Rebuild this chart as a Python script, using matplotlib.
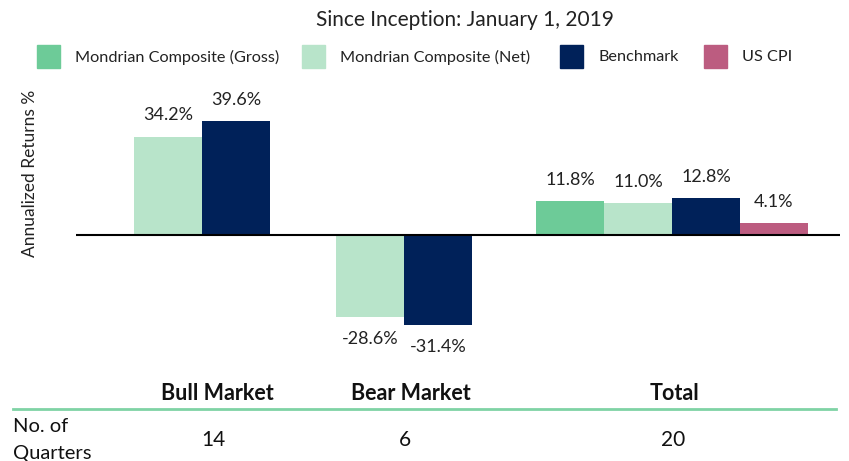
import matplotlib
matplotlib.use("Agg")
import matplotlib.pyplot as plt
from matplotlib.patches import Rectangle
from matplotlib.lines import Line2D

# ---- data ----
title = "Since Inception: January 1, 2019"
series = ["Mondrian Composite (Gross)", "Mondrian Composite (Net)", "Benchmark", "US CPI"]
periods = ["Bull Market", "Bear Market", "Total"]
quarters = ["14", "6", "20"]
# values per period; None = not shown
gross = [None, None, 11.8]
net = [34.2, -28.6, 11.0]
benchmark = [39.6, -31.4, 12.8]
us_cpi = [None, None, 4.1]
ylabel = "Annualized Returns %"

colors = ["#6dcb98", "#b8e4ca", "#002159", "#bc5c80"]
FONT = ["Lato", "DejaVu Sans"]
plt.rcParams["font.family"] = FONT

W, H = 849, 461
fig = plt.figure(figsize=(W / 100, H / 100), dpi=100)

def fx(px):
    return px / W

def fy(py):
    return 1 - py / H

# axes placement in pixels
ax_left, ax_right = 76, 840
ymin, ymax = -40, 45
zero_px, scale = 235, 2.875
ax_top = zero_px - ymax * scale
ax_bot = zero_px - ymin * scale
ax = fig.add_axes([fx(ax_left), fy(ax_bot), (ax_right - ax_left) / W, (ax_bot - ax_top) / H])
ax.set_xlim(ax_left, ax_right)
ax.set_ylim(ymin, ymax)
for s in ax.spines.values():
    s.set_visible(False)
ax.set_xticks([])
ax.set_yticks([])
ax.patch.set_alpha(0)

group_centers = [202, 404, 672]
bar_w = 68
all_series = [gross, net, benchmark, us_cpi]

for gi, gc in enumerate(group_centers):
    present = [si for si in range(len(all_series)) if all_series[si][gi] is not None]
    n = len(present)
    for k, si in enumerate(present):
        v = all_series[si][gi]
        x = gc + (k - (n - 1) / 2) * bar_w
        ax.bar(x, v, width=bar_w, color=colors[si], zorder=2)
        off = 15.5 if v >= 0 else -15.5
        ax.annotate(f"{v:.1f}%", (x, v), xytext=(0, off), textcoords="offset points",
                    ha="center", va="center", fontsize=13, color="#222222")

ax.axhline(0, color="black", lw=1.5, zorder=3)

# y label
fig.text(fx(30), fy(173), ylabel, rotation=90, ha="center", va="center",
         fontsize=12.5, color="#222222")

# title
fig.text(fx(465), fy(20), title, ha="center", va="center", fontsize=15, color="#222222")

# legend (manual)
patch_x = [37, 302, 560, 704]
for i, name in enumerate(series):
    fig.patches.append(Rectangle((fx(patch_x[i]), fy(68)), 23 / W, 23 / H,
                                 transform=fig.transFigure, color=colors[i]))
    fig.text(fx(patch_x[i] + 38), fy(57), name, ha="left", va="center",
             fontsize=11.7, color="#222222")

# table
label_x = [217, 411, 674]
val_x = [213, 405, 673]
for i, p in enumerate(periods):
    fig.text(fx(label_x[i]), fy(393), p, ha="center", va="center", fontsize=15.5,
             fontweight="bold", color="#111111")
    fig.text(fx(val_x[i]), fy(440), quarters[i], ha="center", va="center",
             fontsize=15, color="#111111")
fig.lines.append(Line2D([fx(13), fx(836)], [fy(409), fy(409)], transform=fig.transFigure,
                        color="#7fd3a5", lw=2))
fig.text(fx(13), fy(426), "No. of", ha="left", va="center", fontsize=14.5, color="#111111")
fig.text(fx(13), fy(453), "Quarters", ha="left", va="center", fontsize=14.5, color="#111111")

fig.savefig("out.png", dpi=100)
